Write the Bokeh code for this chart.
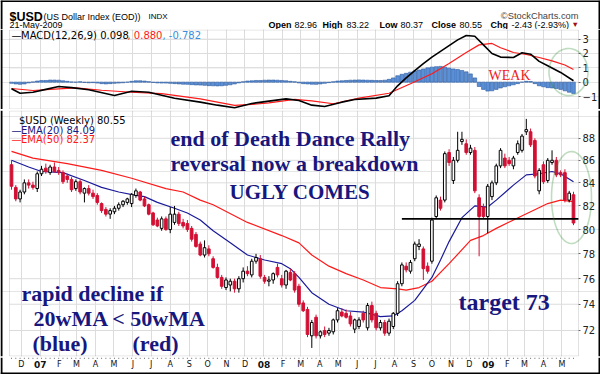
import numpy as np
import pandas as pd
from bokeh.plotting import figure
from bokeh.layouts import column
from bokeh.models import (Range1d, FixedTicker, Label, PolyAnnotation, PrintfTickFormatter, Grid, Span,
                          BoxAnnotation, LinearAxis, LogAxis)
from bokeh.embed import file_html
from bokeh.resources import INLINE

# ---------------- data (weekly $USD) ----------------
first_week = "2006-11-15"
opens = [85.6, 83.6, 82.6, 83.2, 84.0, 83.8, 83.5, 84.8, 85.3, 84.9, 85.4, 85.1, 84.9, 84.6, 84.3, 83.5, 84.1, 83.1, 83.5, 83.1,
         82.9, 82.2, 81.7, 81.3, 81.5, 81.8, 82.1, 82.3, 82.2, 82.9, 83.2, 82.6, 82.1, 81.4, 80.8, 80.1, 80.9, 80.0, 80.6, 81.3,
         80.6, 80.5, 80.1, 79.6, 78.8, 77.9, 78.4, 77.6, 76.9, 76.1, 75.3, 75.5, 75.8, 75.2, 76.0, 76.6, 76.3, 77.4, 77.6, 76.1,
         75.8, 75.9, 76.9, 76.0, 75.5, 76.5, 76.4, 75.4, 74.1, 73.6, 71.6, 73.0, 71.6, 72.0, 71.8, 71.9, 72.8, 73.4, 73.3, 73.1,
         72.1, 72.3, 73.3, 72.2, 73.9, 73.3, 72.2, 72.6, 71.8, 72.3, 73.3, 75.6, 77.0, 76.6, 77.6, 78.6, 78.4, 77.0, 77.4, 81.1,
         82.5, 82.5, 86.7, 84.2, 86.0, 87.7, 87.5, 86.7, 86.9, 82.7, 81.9, 81.1, 82.8, 84.0, 85.5, 86.2, 86.0, 85.5, 86.7, 86.9,
         88.6, 88.6, 87.8, 83.3, 85.6, 84.2, 85.8, 86.0, 84.9, 84.9, 82.5, 82.96]
highs = [86.0, 83.8, 83.4, 84.3, 84.3, 84.1, 85.0, 85.5, 85.7, 85.6, 85.8, 85.4, 85.1, 84.8, 84.5, 84.3, 84.3, 83.6, 83.8, 83.4,
         83.1, 82.3, 81.9, 81.8, 82.0, 82.3, 82.5, 82.7, 83.1, 83.5, 83.3, 82.8, 82.2, 81.5, 81.0, 81.1, 81.1, 81.9, 82.0, 81.5,
         80.9, 80.8, 80.3, 79.8, 79.0, 79.1, 78.7, 77.8, 77.2, 76.3, 76.1, 76.0, 76.0, 76.2, 76.9, 77.0, 77.6, 78.0, 77.9, 76.3,
         76.2, 76.5, 77.2, 76.3, 76.7, 76.8, 76.6, 75.6, 74.3, 73.8, 72.8, 73.2, 72.0, 72.3, 72.2, 72.9, 73.7, 73.7, 73.6, 73.4,
         72.9, 73.0, 73.5, 74.1, 74.2, 73.5, 72.8, 72.8, 72.9, 73.4, 75.8, 77.3, 77.3, 77.5, 79.0, 79.2, 78.6, 77.3, 81.0, 82.9,
         82.8, 86.8, 87.0, 86.3, 88.6, 88.6, 87.9, 87.4, 87.2, 83.0, 82.2, 83.9, 84.2, 85.7, 87.1, 86.6, 86.3, 86.4, 87.8, 88.4,
         89.8, 88.9, 88.0, 85.3, 85.9, 86.2, 86.9, 86.3, 85.1, 85.2, 83.3, 83.22]
lows = [83.4, 82.4, 82.3, 83.0, 83.5, 83.4, 83.2, 84.6, 84.8, 84.7, 84.9, 84.7, 83.9, 84.0, 83.2, 83.3, 83.0, 82.3, 82.9, 82.6,
        82.1, 81.4, 81.1, 80.9, 81.3, 81.6, 81.9, 82.1, 81.9, 82.7, 82.4, 81.9, 81.2, 80.3, 80.2, 79.9, 79.9, 79.7, 80.4, 80.3,
        80.1, 79.8, 79.0, 78.5, 77.8, 77.7, 77.8, 76.8, 76.0, 75.2, 75.1, 75.0, 74.9, 74.9, 75.7, 76.2, 76.1, 77.2, 76.0, 75.6,
        75.4, 75.6, 76.1, 75.3, 75.2, 75.8, 74.9, 73.8, 73.4, 71.5, 70.7, 71.4, 71.4, 71.5, 71.6, 71.7, 72.6, 73.0, 72.9, 72.3,
        71.8, 72.1, 72.6, 72.0, 72.6, 72.0, 72.0, 71.6, 71.6, 72.1, 73.1, 75.4, 76.5, 76.4, 77.4, 78.3, 75.9, 76.4, 77.2, 80.9,
        81.6, 82.3, 85.5, 83.9, 85.8, 87.4, 86.5, 86.5, 83.1, 77.8, 80.9, 79.7, 82.5, 83.8, 85.3, 85.3, 85.5, 85.2, 86.5, 86.7,
        88.3, 87.2, 84.4, 83.0, 83.9, 84.0, 85.6, 84.5, 84.5, 82.3, 82.3, 80.37]
closes = [83.7, 82.6, 83.2, 84.0, 83.8, 83.6, 84.8, 85.2, 85.0, 85.4, 85.0, 84.9, 84.1, 84.3, 83.4, 84.1, 83.2, 83.5, 83.1, 82.8,
          82.3, 81.6, 81.3, 81.6, 81.8, 82.1, 82.4, 82.6, 83.0, 83.3, 82.5, 82.0, 81.3, 80.4, 80.3, 80.9, 80.0, 81.3, 81.3, 80.5,
          80.3, 80.0, 79.2, 78.6, 77.9, 78.5, 78.0, 76.9, 76.1, 75.4, 75.9, 75.8, 75.2, 76.0, 76.6, 76.4, 77.4, 77.7, 76.2, 75.8,
          75.9, 76.4, 76.3, 75.5, 76.6, 75.9, 75.1, 74.0, 73.5, 71.7, 72.6, 71.6, 71.9, 71.7, 72.0, 72.8, 73.5, 73.1, 73.0, 72.5,
          72.8, 72.8, 72.8, 73.9, 72.8, 72.2, 72.6, 71.8, 72.7, 73.3, 75.6, 77.1, 76.7, 77.3, 78.8, 78.8, 76.8, 76.6, 80.8, 82.7,
          81.8, 86.6, 85.8, 86.0, 86.9, 87.9, 86.7, 87.1, 83.3, 81.1, 81.1, 83.7, 84.0, 85.5, 86.9, 85.5, 85.7, 86.2, 87.5, 88.2,
          88.8, 87.4, 84.6, 85.1, 84.1, 86.0, 86.0, 84.7, 84.7, 82.5, 83.1, 80.55]

# EMA lines read at sample weeks (week index, value)
ema20_weeks = [0, 4, 7, 12, 17, 21, 25, 29, 31, 34, 38, 41, 44, 47, 51, 55, 59, 63, 65, 67, 70, 74, 78, 82, 86, 89, 91, 94,
               98, 100, 102, 105, 108, 111, 113, 117, 120, 123, 126, 128, 131]
ema20_vals = [86.0, 85.4, 85.0, 84.9, 84.2, 83.6, 83.2, 82.9, 82.8, 82.3, 81.8, 81.4, 80.8, 79.9, 78.9, 77.9, 77.5, 77.2, 76.8,
              76.1, 74.9, 74.0, 73.5, 73.4, 73.05, 73.1, 73.5, 74.3, 76.1, 77.5, 79.0, 81.0, 82.0, 81.9, 82.5, 83.8, 84.7,
              84.8, 85.0, 84.8, 84.09]
ema50_weeks = [0, 5, 13, 21, 28, 36, 40, 44, 47, 55, 63, 67, 70, 74, 78, 82, 86, 90, 92, 95, 98, 102, 107, 110, 113, 117, 121,
               125, 128, 131]
ema50_vals = [86.8, 86.2, 85.7, 85.1, 84.4, 83.5, 83.2, 82.5, 82.1, 80.6, 79.5, 78.9, 77.9, 77.0, 76.4, 75.9, 75.3, 75.2, 75.1,
              75.3, 75.8, 77.2, 79.1, 79.5, 80.1, 80.8, 81.5, 82.2, 82.5, 82.37]

# MACD(12,26,9)
macd_weeks = [0, 2, 5, 8, 11, 14, 18, 24, 28, 32, 38, 44, 48, 52, 56, 60, 64, 67, 70, 73, 77, 80, 85, 88, 90, 92, 94, 96, 98,
              100, 102, 104, 106, 108, 110, 112, 114, 117, 119, 121, 123, 125, 128, 131]
macd_vals = [-0.46, -0.77, -0.70, -0.50, -0.30, -0.38, -0.53, -0.93, -0.63, -0.70, -1.12, -1.39, -1.60, -1.78, -1.48, -1.32,
             -1.16, -1.28, -1.60, -1.69, -1.39, -1.20, -1.11, -0.95, -0.25, 0.30, 0.80, 1.30, 1.75, 2.15, 2.55, 2.95, 3.25,
             3.20, 2.60, 2.00, 1.75, 1.72, 2.05, 1.95, 1.45, 1.15, 0.68, 0.098]
signal_weeks = [0, 5, 11, 15, 21, 28, 35, 44, 52, 56, 60, 66, 70, 75, 81, 88, 93, 98, 102, 106, 109, 112, 114, 117, 120, 123,
                126, 129, 131]
signal_vals = [-0.44, -0.58, -0.46, -0.40, -0.56, -0.70, -0.79, -1.16, -1.62, -1.55, -1.44, -1.20, -1.30, -1.50, -1.11, -0.77,
               -0.11, 0.59, 1.30, 2.07, 2.60, 2.70, 2.40, 2.07, 1.93, 1.72, 1.49, 1.20, 0.88]
histogram = [-0.08, -0.12, -0.15, -0.12, -0.05, 0.02, 0.08, 0.12, 0.12, 0.15, 0.15, 0.14, 0.10, 0.06,
             0.02, 0.0, 0.03, -0.02, -0.04, -0.03, -0.06, -0.10, -0.12, -0.10, -0.08, -0.06, -0.04, 0.0,
             0.06, 0.10, 0.10, 0.08, 0.04, -0.02, -0.05, -0.06, -0.06, -0.08,
             -0.10, -0.12, -0.14, -0.15, -0.17, -0.19, -0.20, -0.22, -0.24, -0.25, -0.26, -0.25, -0.22, -0.18, -0.12,
             -0.05, 0.03, 0.08, 0.10, 0.12, 0.12, 0.14, 0.15, 0.15, 0.14, 0.12, 0.10, 0.06, 0.03,
             -0.05, -0.10, -0.12, -0.14, -0.15, -0.12, -0.08, -0.03,
             0.03, 0.08, 0.10, 0.12, 0.14, 0.15, 0.16, 0.15, 0.14, 0.13, 0.12, 0.12, 0.14, 0.20, 0.30,
             0.45, 0.55, 0.62, 0.70, 0.78, 0.85, 0.92, 1.00, 1.05, 1.08, 1.10, 1.05, 0.98, 0.92, 0.88, 0.82, 0.72, 0.58, 0.30,
             -0.30, -0.50, -0.62, -0.60, -0.50, -0.40, -0.32, -0.25, -0.18, -0.10, 0.00, 0.06, 0.05,
             -0.10, -0.25, -0.32, -0.38, -0.40, -0.44, -0.50, -0.60, -0.70, -0.78]

month_labels = ["D", "07", "F", "M", "A", "M", "J", "J", "A", "S", "O", "N", "D", "08", "F", "M", "A", "M", "J", "J",
                "A", "S", "O", "N", "D", "09", "F", "M", "A", "M"]
macd_ticks = [-1, 0, 1, 2, 3]
price_ticks = [72, 74, 76, 78, 80, 82, 84, 86, 88]
support_level = 80.9
support_from = "2008-08-13"

# ---------------- layout helpers (reference pixel -> data) ----------------
WEEK = 7 * 86400000.0
dates = pd.date_range(first_week, periods=len(closes), freq="7D")
xs = dates.values.astype("datetime64[ms]").astype(np.int64).astype(float)
month_ms = [int(v) for v in pd.date_range("2006-12-01", periods=len(month_labels), freq="MS")
            .values.astype("datetime64[ms]").astype(np.int64)]

FL, FR = 9, 578                       # panel left/right (px)
XL = xs[0] + (FL - 11) / 4.29 * WEEK
XR = xs[0] + (FR - 11) / 4.29 * WEEK


def xd(rx):
    return XL + (rx - FL) * (XR - XL) / (FR - FL)


X_START, X_END = xd(0), xd(600)       # figures span the whole width
M_TOP, M_BOT = 3.672, -1.902          # MACD frame 29..109 px
P_TOP, P_BOT = 90.59, 70.07           # price frame 110..356 px (log)


def y1d(ry):
    return M_TOP - (ry - 29) * (M_TOP - M_BOT) / 80.0


def y2d(ry):
    return float(np.exp(np.log(P_TOP) - (ry - 110) * (np.log(P_TOP) - np.log(P_BOT)) / 246.0))


def ellipse(cx, cy, w, h, n=72):
    t = np.linspace(0, 2 * np.pi, n)
    return cx + w / 2 * np.cos(t), cy + h / 2 * np.sin(t)


GRID = "#dcdcdc"
PANEL = "#9a9a9a"
NAVY = "#17177e"
CRED = "#d21034"
SANS = "DejaVu Sans"
ARIAL = "Liberation Sans"
SERIF = "Liberation Serif"
xrange_shared = Range1d(X_START, X_END)


def outer_border(p, left, right, top=None, bottom=None):
    p.add_layout(Span(location=left, dimension="height", line_color="black", line_width=2))
    p.add_layout(Span(location=right, dimension="height", line_color="black", line_width=2))
    if top is not None:
        p.add_layout(Span(location=top, dimension="width", line_color="black", line_width=2))
    if bottom is not None:
        p.add_layout(Span(location=bottom, dimension="width", line_color="black", line_width=2))


def style_axis(a, ticks):
    a.ticker = FixedTicker(ticks=ticks)
    a.axis_line_color = None
    a.major_tick_out = 2
    a.major_tick_in = 0
    a.minor_tick_out = 0
    a.minor_tick_in = 0
    a.major_tick_line_color = "#666666"
    a.major_label_standoff = 2
    a.major_label_text_font = SANS
    a.major_label_text_font_size = "10px"
    a.major_label_text_color = "#222222"


# ---------------- header strip ----------------
ph = figure(width=600, height=29, x_range=Range1d(0, 600), y_range=Range1d(29, 0),
            x_axis_location=None, y_axis_location=None, toolbar_location=None, output_backend="svg",
            min_border=0)
ph.outline_line_color = None
ph.grid.visible = False
outer_border(ph, 1, 599, top=0.6)


def hdr(rx, ry, text, size, bold=False, color="black", align="left", font=ARIAL):
    ph.add_layout(Label(x=rx, y=ry, text=text, text_font=font, text_font_size=size,
                        text_font_style="bold" if bold else "normal", text_color=color,
                        text_align=align, text_baseline="alphabetic"))


hdr(9, 16, "$USD", "12.5px", bold=True)
hdr(43, 16, "(US Dollar Index (EOD))", "9px")
hdr(148, 16, "INDX", "8px")
hdr(9, 24.5, "21-May-2009", "9px")
hdr(578, 15.5, "\u00a9StockCharts.com", "9.3px", color="#444444", align="right")
row = [(268, "Open", True), (294, "82.96", False), (322, "High", True), (346, "83.22", False),
       (379, "Low", True), (400, "80.37", False), (431, "Close", True), (459, "80.55", False),
       (490, "Chg", True), (511, "-2.43 (-2.93%)", False)]
for rx, txt, b in row:
    hdr(rx, 24.5, txt, "9px", bold=b)
hdr(571, 24, "\u25bc", "7.5px", color="#a01010")

# ---------------- MACD panel ----------------
p1 = figure(width=600, height=80, x_axis_type="datetime", x_axis_location=None, y_axis_location=None,
            x_range=xrange_shared, y_range=Range1d(M_BOT, M_TOP),
            toolbar_location=None, output_backend="svg",
            min_border_left=0, min_border_right=0, min_border_top=0, min_border_bottom=0)
p1.outline_line_color = None
p1.add_layout(Grid(dimension=0, ticker=FixedTicker(ticks=month_ms), grid_line_color=GRID))
p1.segment(x0=[xd(FL)] * len(macd_ticks), y0=macd_ticks, x1=[xd(FR)] * len(macd_ticks), y1=macd_ticks,
           color=GRID, line_width=1)
ax1 = LinearAxis(fixed_location=xd(FR))
style_axis(ax1, macd_ticks)
p1.add_layout(ax1, "right")
p1.add_layout(BoxAnnotation(left=xd(FL), right=xd(FR), top=y1d(29.5), bottom=y1d(108.5), fill_alpha=0,
                            line_color=PANEL, line_width=1))
outer_border(p1, xd(1), xd(599))

p1.vbar(x=xs, top=histogram, bottom=0, width=0.85 * WEEK, fill_color="#5b8fd6", line_color="#2c5aa0", line_width=0.6)
p1.line([xs[i] for i in signal_weeks], signal_vals, color="#ff1a1a", line_width=1.2)
p1.line([xs[i] for i in macd_weeks], macd_vals, color="black", line_width=1.6)

ex, ey = ellipse(568, 71.5, 39, 47)
p1.add_layout(PolyAnnotation(xs=[xd(v) for v in ex], ys=[y1d(v) for v in ey], fill_alpha=0,
                             line_color="#2e8b2e", line_width=1.6))
p1.add_layout(Label(x=xd(488), y=y1d(75), text="WEAK", text_font=SERIF, text_font_size="14px",
                    text_color="#ee1c1c", text_baseline="alphabetic"))

for rx, txt, col in [(11, "\u2014", "black"), (20.5, "MACD(12,26,9) 0.098", "black"),
                     (127, ", 0.880", "#ff1a1a"), (162, ", -0.782", "#3a8ee0")]:
    p1.add_layout(Label(x=xd(rx), y=y1d(34.5), text=txt, text_font=SANS, text_font_size="10px",
                        text_color=col, text_baseline="middle"))

# ---------------- price panel ----------------
p2 = figure(width=600, height=248, x_axis_type="datetime", x_axis_location=None, y_axis_type="log",
            y_axis_location=None, x_range=xrange_shared, y_range=Range1d(P_BOT, P_TOP),
            toolbar_location=None, output_backend="svg",
            min_border_left=0, min_border_right=0, min_border_top=1, min_border_bottom=1)
p2.outline_line_color = None
p2.add_layout(Grid(dimension=0, ticker=FixedTicker(ticks=month_ms), grid_line_color=GRID))
p2.segment(x0=[xd(FL)] * len(price_ticks), y0=price_ticks, x1=[xd(FR)] * len(price_ticks), y1=price_ticks,
           color=GRID, line_width=1)
ax2 = LogAxis(fixed_location=xd(FR))
style_axis(ax2, price_ticks)
ax2.formatter = PrintfTickFormatter(format="%d")
p2.add_layout(ax2, "right")
p2.add_layout(BoxAnnotation(left=xd(FL), right=xd(FR), top=y2d(110.5), bottom=y2d(355.5), fill_alpha=0,
                            line_color=PANEL, line_width=1))
outer_border(p2, xd(1), xd(599))

p2.line([xs[i] for i in ema50_weeks], ema50_vals, color="#ff1a1a", line_width=1.2)
p2.line([xs[i] for i in ema20_weeks], ema20_vals, color="#1a1a9a", line_width=1.2)

o = np.array(opens); c = np.array(closes); h = np.array(highs); l = np.array(lows)
up = c >= o
wick_col = np.where(up, "black", CRED)
p2.segment(x0=xs, y0=l, x1=xs, y1=h, color=list(wick_col), line_width=1)
p2.vbar(x=xs[up], top=c[up], bottom=o[up], width=0.62 * WEEK, fill_color="white", line_color="black", line_width=1)
p2.vbar(x=xs[~up], top=o[~up], bottom=c[~up], width=0.62 * WEEK, fill_color=CRED, line_color=CRED, line_width=1)

sx = float(np.datetime64(support_from, "ms").astype(np.int64))
p2.segment(x0=[sx], y0=[support_level], x1=[xd(FR)], y1=[support_level], color="black", line_width=1.6)

ex, ey = ellipse(571, 197, 40, 92)
p2.add_layout(PolyAnnotation(xs=[xd(v) for v in ex], ys=[y2d(v) for v in ey], fill_alpha=0,
                             line_color="#2e8b2e", line_width=1.6))


def lab2(rx, ry, text, size="10px", color="black", font=SANS, bold=False, baseline="middle"):
    p2.add_layout(Label(x=xd(rx), y=y2d(ry), text=text, text_font=font, text_font_size=size, text_color=color,
                        text_font_style="bold" if bold else "normal", text_baseline=baseline))


lab2(18.5, 120, "$USD (Weekly) 80.55")
lab2(11, 129.5, "\u2014", color=NAVY)
lab2(20.5, 129.5, "EMA(20) 84.09", color=NAVY)
lab2(11, 138.5, "\u2014", color="#ff1a1a")
lab2(20.5, 138.5, "EMA(50) 82.37", color="#ff1a1a")

lab2(170, 138, "end of Death Dance Rally", size="22px", color=NAVY, font=SERIF, bold=True, baseline="alphabetic")
lab2(170, 163, "reversal now a breakdown", size="22px", color=NAVY, font=SERIF, bold=True, baseline="alphabetic")
lab2(229, 191, "UGLY COMES", size="21px", color=NAVY, font=SERIF, bold=True, baseline="alphabetic")
lab2(21, 293, "rapid decline if", size="22px", color=NAVY, font=SERIF, bold=True, baseline="alphabetic")
lab2(33, 318, "20wMA < 50wMA", size="22px", color=NAVY, font=SERIF, bold=True, baseline="alphabetic")
lab2(32, 343, "(blue)", size="22px", color=NAVY, font=SERIF, bold=True, baseline="alphabetic")
lab2(132, 343, "(red)", size="22px", color=NAVY, font=SERIF, bold=True, baseline="alphabetic")
lab2(458, 301, "target 73", size="24px", color=NAVY, font=SERIF, bold=True, baseline="alphabetic")

# ---------------- date strip ----------------
p3 = figure(width=600, height=17, x_axis_type="datetime", x_axis_location=None, y_axis_location=None,
            x_range=xrange_shared, y_range=Range1d(17, 0), toolbar_location=None, output_backend="svg",
            min_border_left=0, min_border_right=0, min_border_top=0, min_border_bottom=0)
p3.outline_line_color = None
p3.grid.visible = False
outer_border(p3, xd(1), xd(599), bottom=16)
p3.segment(x0=xs, y0=0, x1=xs, y1=1.5, color="#888888", line_width=1)
for m, lab in zip(month_ms, month_labels):
    yr = len(lab) == 2
    p3.add_layout(Label(x=m, y=7, text=lab, text_font=SANS, text_font_size="9px" if yr else "8px",
                        text_font_style="bold" if yr else "normal", text_align="center", text_baseline="middle",
                        text_color="#111111"))

layout = column(ph, p1, p2, p3, spacing=0)
open("out.html", "w").write(file_html(layout, INLINE))
